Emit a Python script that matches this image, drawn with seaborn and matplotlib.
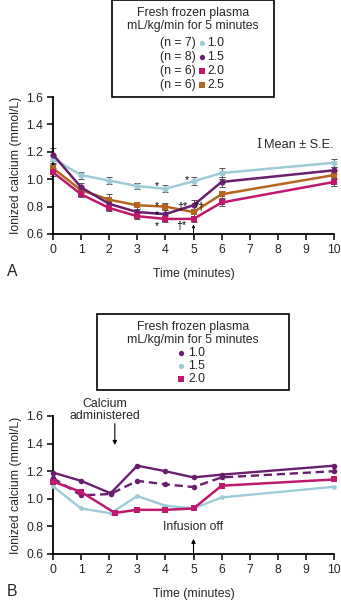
import numpy as np
import pandas as pd
import seaborn as sns
import matplotlib
matplotlib.use("Agg")
import matplotlib.pyplot as plt
from matplotlib.lines import Line2D
from matplotlib.patches import Rectangle

sns.set_theme(style="ticks")
plt.rcParams['font.family'] = ['Liberation Sans', 'DejaVu Sans']

# ---------------- data ----------------
time_a = [0, 1, 2, 3, 4, 5, 6, 10]
a_10 = [1.15, 1.03, 0.99, 0.95, 0.93, 0.985, 1.045, 1.12]
a_15 = [1.18, 0.94, 0.82, 0.76, 0.745, 0.81, 0.98, 1.065]
a_20 = [1.05, 0.89, 0.79, 0.73, 0.71, 0.71, 0.83, 0.98]
a_25 = [1.08, 0.92, 0.85, 0.81, 0.80, 0.76, 0.89, 1.03]
se_10 = [0.03, 0.025, 0.025, 0.025, 0.025, 0.03, 0.04, 0.03]
se_15 = [0.05, 0.03, 0.03, 0.02, 0.03, 0.04, 0.035, 0.025]
se_20 = [0.03, 0.02, 0.025, 0.02, 0.025, 0.025, 0.025, 0.03]
se_25 = [0.03, 0.02, 0.04, 0.025, 0.025, 0.025, 0.025, 0.03]
n_labels = ["(n = 7)", "(n = 8)", "(n = 6)", "(n = 6)"]
dose_a = ["1.0", "1.5", "2.0", "2.5"]

time_b = [0, 1, 2.05, 3, 4, 5, 6, 10]
time_b_mag = [0, 1, 2.2, 3, 4, 5, 6, 10]
b_10 = [1.19, 1.13, 1.04, 1.24, 1.20, 1.155, 1.175, 1.24]
b_10_dash = [1.15, 1.025, 1.035, 1.13, 1.105, 1.085, 1.155, 1.20]
b_15 = [1.09, 0.93, 0.895, 1.02, 0.95, 0.93, 1.01, 1.087]
b_20 = [1.125, 1.05, 0.898, 0.92, 0.92, 0.93, 1.095, 1.14]
dose_b = ["1.0", "1.5", "2.0"]

xticks = list(range(0, 11))
yticks = [0.6, 0.8, 1.0, 1.2, 1.4, 1.6]

C_BLUE = "#9dcbd6"
C_PURP = "#6a1f6e"
C_MAG = "#c0186c"
C_ORG = "#b5651e"

fig = plt.figure(figsize=(3.41, 6.0), dpi=100)
W, H = 341, 600

def fpos(l, t, r, b):
    return [l / W, 1 - b / H, (r - l) / W, (b - t) / H]

axA = fig.add_axes(fpos(53, 97, 334, 234))
axB = fig.add_axes(fpos(53, 416, 334, 554))

FT = 8.8

def style_axes(ax):
    ax.set_xlim(0, 10)
    ax.set_ylim(0.6, 1.6)
    ax.set_xticks(xticks)
    ax.set_xticklabels([str(t) for t in xticks], fontsize=FT)
    ax.set_yticks(yticks)
    ax.set_yticklabels([f"{v:.1f}" for v in yticks], fontsize=FT)
    sns.despine(ax=ax)
    for s in ["left", "bottom"]:
        ax.spines[s].set_linewidth(1.3)
        ax.spines[s].set_color("black")
    ax.tick_params(direction="out", length=4, width=1.1, color="black", pad=3)
    ax.set_xlabel("Time (minutes)", fontsize=FT, labelpad=9)
    ax.set_ylabel("Ionized calcium (mmol/L)", fontsize=FT, labelpad=3)
    ax.patch.set_alpha(0)

# ---------------- Panel A ----------------
seriesA = [
    (a_10, se_10, C_BLUE, "o"),
    (a_25, se_25, C_ORG, "s"),
    (a_15, se_15, C_PURP, "o"),
    (a_20, se_20, C_MAG, "s"),
]
for vals, se, col, mk in seriesA:
    axA.errorbar(time_a, vals, yerr=se, fmt="none", ecolor="#555555",
                 elinewidth=0.7, capsize=2, capthick=0.7, clip_on=False, zorder=2)
    sns.lineplot(x=time_a, y=vals, ax=axA, color=col, marker=mk, markersize=4.4,
                 markeredgewidth=0, linewidth=1.8, clip_on=False, zorder=3)
style_axes(axA)

# significance marks
star_kw = dict(fontsize=7.6, ha="center", va="center", color="black")
axA.text(3.69, 0.95, "*", **star_kw)
axA.text(3.69, 0.805, "*", **star_kw)
axA.text(3.69, 0.74, "*", **star_kw)
axA.text(3.69, 0.66, "*", **star_kw)
axA.text(4.75, 0.99, "*", **star_kw)
axA.text(4.6, 0.80, "†*", **star_kw)
axA.text(5.24, 0.795, "*†", **star_kw)
axA.text(4.58, 0.66, "†*", **star_kw)
axA.annotate("", xy=(5, 0.67), xytext=(5, 0.6),
             arrowprops=dict(arrowstyle="-|>", color="black", lw=0.7,
                             mutation_scale=4, shrinkA=0, shrinkB=0))
axA.text(7.32, 1.25, "I", fontsize=FT + 0.6, family="DejaVu Serif",
         ha="center", va="center", color="#333333")
axA.text(7.52, 1.25, "Mean ± S.E.", fontsize=FT + 0.4, ha="left", va="center")

fig.text(7 / W, 1 - 272 / H, "A", fontsize=FT + 2.5, ha="left", va="center")

# Legend A (manual box)
fig.add_artist(Rectangle((112 / W, 1 - 97 / H), (274 - 112) / W, 97 / H,
                         transform=fig.transFigure, fill=False, ec="black", lw=1.2))
fig.text(193 / W, 1 - 13 / H, "Fresh frozen plasma", fontsize=FT,
         ha="center", va="center")
fig.text(193 / W, 1 - 26 / H, "mL/kg/min for 5 minutes", fontsize=FT,
         ha="center", va="center")
legA = [(C_BLUE, "o"), (C_PURP, "o"), (C_MAG, "s"), (C_ORG, "s")]
ys = [43, 57, 71, 85]
for (col, mk), y, nl, d in zip(legA, ys, n_labels, dose_a):
    fig.text(196 / W, 1 - y / H, nl, fontsize=FT, ha="right", va="center")
    fig.add_artist(Line2D([201.5 / W], [1 - y / H], transform=fig.transFigure,
                          marker=mk, color=col, markersize=3.8, markeredgewidth=0,
                          linestyle="none"))
    fig.text(207 / W, 1 - y / H, d, fontsize=FT, ha="left", va="center")

# ---------------- Panel B ----------------
sns.lineplot(x=time_b, y=b_15, ax=axB, color=C_BLUE, marker="o", markersize=3.4,
             markeredgewidth=0, linewidth=1.7, clip_on=False, zorder=3)
sns.lineplot(x=time_b_mag, y=b_20, ax=axB, color=C_MAG, marker="s", markersize=4.4,
             markeredgewidth=0, linewidth=1.8, clip_on=False, zorder=4)
sns.lineplot(x=time_b, y=b_10_dash, ax=axB, color=C_PURP, marker="o", markersize=4,
             markeredgewidth=0, linewidth=1.7, linestyle=(0, (3.5, 2)),
             clip_on=False, zorder=3)
sns.lineplot(x=time_b, y=b_10, ax=axB, color=C_PURP, marker="o", markersize=4,
             markeredgewidth=0, linewidth=1.7, clip_on=False, zorder=5)
style_axes(axB)

axB.annotate("", xy=(2.2, 1.39), xytext=(2.2, 1.545),
             arrowprops=dict(arrowstyle="-|>", color="black", lw=0.8,
                             mutation_scale=6, shrinkA=0, shrinkB=0))
axB.text(1.85, 1.645, "Calcium\nadministered", fontsize=FT, ha="center",
         va="center", linespacing=1.0, clip_on=False)
axB.annotate("", xy=(5, 0.71), xytext=(5, 0.6),
             arrowprops=dict(arrowstyle="-|>", color="black", lw=0.8,
                             mutation_scale=6, shrinkA=0, shrinkB=0))
axB.text(5, 0.795, "Infusion off", fontsize=FT, ha="center", va="center")

fig.text(7 / W, 1 - 592 / H, "B", fontsize=FT + 2.5, ha="left", va="center")

# Legend B
fig.add_artist(Rectangle((97 / W, 1 - 390 / H), (289 - 97) / W, (390 - 314) / H,
                         transform=fig.transFigure, fill=False, ec="black", lw=1.2))
fig.text(193 / W, 1 - 327 / H, "Fresh frozen plasma", fontsize=FT,
         ha="center", va="center")
fig.text(193 / W, 1 - 340 / H, "mL/kg/min for 5 minutes", fontsize=FT,
         ha="center", va="center")
legB = [(C_PURP, "o"), (C_BLUE, "o"), (C_MAG, "s")]
for (col, mk), y, d in zip(legB, [353, 366, 379], dose_b):
    fig.add_artist(Line2D([181 / W], [1 - y / H], transform=fig.transFigure,
                          marker=mk, color=col, markersize=3.8, markeredgewidth=0,
                          linestyle="none"))
    fig.text(188 / W, 1 - y / H, d, fontsize=FT, ha="left", va="center")

fig.savefig("out.png", dpi=100)
